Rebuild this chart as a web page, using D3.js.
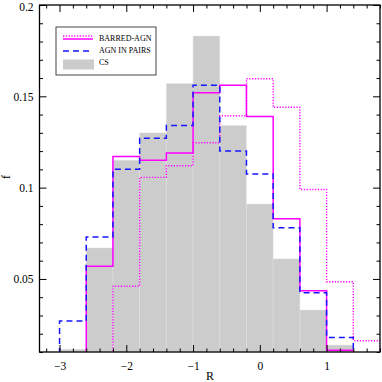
<!DOCTYPE html>
<html>
<head>
<meta charset="utf-8">
<script src="https://cdn.jsdelivr.net/npm/d3@7"></script>
<style>
  html, body { margin: 0; padding: 0; background: #fff; }
  svg { display: block; }
  .tick text { font-family: "Liberation Serif", "Times New Roman", serif; font-size: 11.5px; fill: #000; }
  .tick line { stroke: #000; stroke-width: 1; }
</style>
</head>
<body>
<svg id="vis" width="382" height="382"></svg>
<script>
// histogram bins (R), 0.4 wide
const binEdges = [-3, -2.6, -2.2, -1.8, -1.4, -1.0, -0.6, -0.2, 0.2, 0.6, 1.0, 1.4, 1.8];
// f per bin; null = bin not drawn
const csValues = [0.0115, 0.067, 0.115, 0.130, 0.157, 0.183, 0.134, 0.091, 0.061, 0.033, 0.0138, null];
const pairsValues = [0.027, 0.073, 0.110, 0.127, 0.134, 0.156, 0.120, 0.1075, 0.078, 0.0425, 0.018, null];
const barredValues = [null, 0.057, 0.117, 0.115, 0.119, 0.152, 0.156, 0.139, 0.083, 0.0435, 0.011, null];
const barredAltValues = [null, null, 0.046, 0.1056, 0.112, 0.1246, 0.1394, 0.1596, 0.144, 0.099, 0.0485, 0.0162];

const xMajor = [-3, -2, -1, 0, 1];
const yMajor = [0.05, 0.1, 0.15, 0.2];
const legendLabels = ['BARRED-AGN', 'AGN IN PAIRS', 'CS'];

const vis = d3.select('#vis');
const plotLeft = 39.5, plotRight = 380, plotTop = 5, plotBottom = 352;

const x = d3.scaleLinear().domain([-3.3, 1.8]).range([plotLeft, plotRight]);
const y = d3.scaleLinear().domain([0.01, 0.2]).range([plotBottom, plotTop]);

vis.append('defs').append('clipPath').attr('id', 'plotClip')
  .append('rect')
    .attr('x', plotLeft).attr('y', plotTop)
    .attr('width', plotRight - plotLeft).attr('height', plotBottom - plotTop);

const plot = vis.append('g').attr('clip-path', 'url(#plotClip)');

// gray CS bars
plot.selectAll('rect.cs')
  .data(csValues.map((v, i) => ({v, i})).filter(d => d.v !== null))
  .enter()
    .append('rect')
    .classed('cs', true)
    .attr('x', d => x(binEdges[d.i]))
    .attr('width', d => x(binEdges[d.i + 1]) - x(binEdges[d.i]))
    .attr('y', d => y(d.v))
    .attr('height', d => plotBottom - y(d.v))
    .attr('fill', '#cccccc')
    .attr('stroke', '#e6e6e6')
    .attr('stroke-width', 0.7)
    .attr('stroke-dasharray', '1,1');

// step outline for a histogram series
function stepPoints(values) {
  const pts = [];
  const first = values.findIndex(v => v !== null);
  const last = values.length - 1 - [...values].reverse().findIndex(v => v !== null);
  pts.push([x(binEdges[first]), plotBottom + 2]);
  for (let i = first; i <= last; i++) {
    pts.push([x(binEdges[i]), y(values[i])]);
    pts.push([x(binEdges[i + 1]), y(values[i])]);
  }
  pts.push([x(binEdges[last + 1]), plotBottom + 2]);
  return pts;
}

const line = d3.line();

plot.append('path')
  .attr('d', line(stepPoints(barredAltValues)))
  .attr('fill', 'none')
  .attr('stroke', '#ff00ff')
  .attr('stroke-width', 1.4)
  .attr('stroke-dasharray', '1.2,1.6');

plot.append('path')
  .attr('d', line(stepPoints(barredValues)))
  .attr('fill', 'none')
  .attr('stroke', '#ff00ff')
  .attr('stroke-width', 1.5);

plot.append('path')
  .attr('d', line(stepPoints(pairsValues)))
  .attr('fill', 'none')
  .attr('stroke', '#1515ff')
  .attr('stroke-width', 1.5)
  .attr('stroke-dasharray', '6,4');

// axes, ticks pointing inward
const xMinor = d3.range(-3.2, 1.81, 0.2).map(v => +v.toFixed(1)).filter(v => !xMajor.includes(v));
const yMinor = d3.range(0.01, 0.2001, 0.01).map(v => +v.toFixed(2)).filter(v => !yMajor.includes(v));
const fmtX = d => d < 0 ? '\u2212' + Math.abs(d) : String(d);
const fmtY = d => String(+d.toFixed(2));

function addAxis(axis, tf) {
  const g = vis.append('g').attr('transform', tf).call(axis);
  g.select('.domain').remove();
  return g;
}

addAxis(d3.axisBottom(x).tickValues(xMajor).tickFormat(fmtX).tickSize(-7).tickPadding(10), `translate(0,${plotBottom})`);
addAxis(d3.axisBottom(x).tickValues(xMinor).tickFormat('').tickSize(-3.5), `translate(0,${plotBottom})`);
addAxis(d3.axisTop(x).tickValues(xMajor).tickFormat('').tickSize(-7), `translate(0,${plotTop})`);
addAxis(d3.axisTop(x).tickValues(xMinor).tickFormat('').tickSize(-3.5), `translate(0,${plotTop})`);
const yAxisG = addAxis(d3.axisLeft(y).tickValues(yMajor).tickFormat(fmtY).tickSize(-7).tickPadding(6), `translate(${plotLeft},0)`);
// keep the top label inside the page
yAxisG.selectAll('.tick text').filter(d => d === 0.2).attr('dy', '0.45em');
addAxis(d3.axisLeft(y).tickValues(yMinor).tickFormat('').tickSize(-3.5), `translate(${plotLeft},0)`);
addAxis(d3.axisRight(y).tickValues(yMajor).tickFormat('').tickSize(-7), `translate(${plotRight},0)`);
addAxis(d3.axisRight(y).tickValues(yMinor).tickFormat('').tickSize(-3.5), `translate(${plotRight},0)`);

vis.append('rect')
  .attr('x', plotLeft).attr('y', plotTop)
  .attr('width', plotRight - plotLeft).attr('height', plotBottom - plotTop)
  .attr('fill', 'none')
  .attr('stroke', '#000')
  .attr('stroke-width', 1.3);

// axis titles
vis.append('text')
  .attr('x', 210).attr('y', 380)
  .attr('text-anchor', 'middle')
  .style('font-family', '"Liberation Serif", "Times New Roman", serif')
  .style('font-size', '12px')
  .text('R');

vis.append('text')
  .attr('transform', 'translate(10,177) rotate(-90)')
  .attr('text-anchor', 'middle')
  .style('font-family', '"Liberation Serif", "Times New Roman", serif')
  .style('font-size', '12px')
  .text('f');

// legend
const legend = vis.append('g');
legend.append('rect')
  .attr('x', 56).attr('y', 27).attr('width', 100).attr('height', 48)
  .attr('fill', '#fff').attr('stroke', '#444').attr('stroke-width', 1);

legend.append('line')
  .attr('x1', 63).attr('x2', 93).attr('y1', 36).attr('y2', 36)
  .attr('stroke', '#ff00ff').attr('stroke-width', 1.4).attr('stroke-dasharray', '1.2,1.6');
legend.append('line')
  .attr('x1', 63).attr('x2', 93).attr('y1', 39).attr('y2', 39)
  .attr('stroke', '#ff00ff').attr('stroke-width', 1.5);
legend.append('line')
  .attr('x1', 63).attr('x2', 93).attr('y1', 51).attr('y2', 51)
  .attr('stroke', '#1515ff').attr('stroke-width', 1.5).attr('stroke-dasharray', '6,4');
legend.append('rect')
  .attr('x', 63).attr('y', 59.5).attr('width', 31).attr('height', 10)
  .attr('fill', '#cccccc');

legend.selectAll('text')
  .data(legendLabels)
  .enter()
    .append('text')
    .attr('x', 99)
    .attr('y', (d, i) => 41 + i * 12)
    .style('font-family', '"Liberation Serif", "Times New Roman", serif')
    .style('font-size', '8px')
    .text(d => d);
</script>
</body>
</html>
